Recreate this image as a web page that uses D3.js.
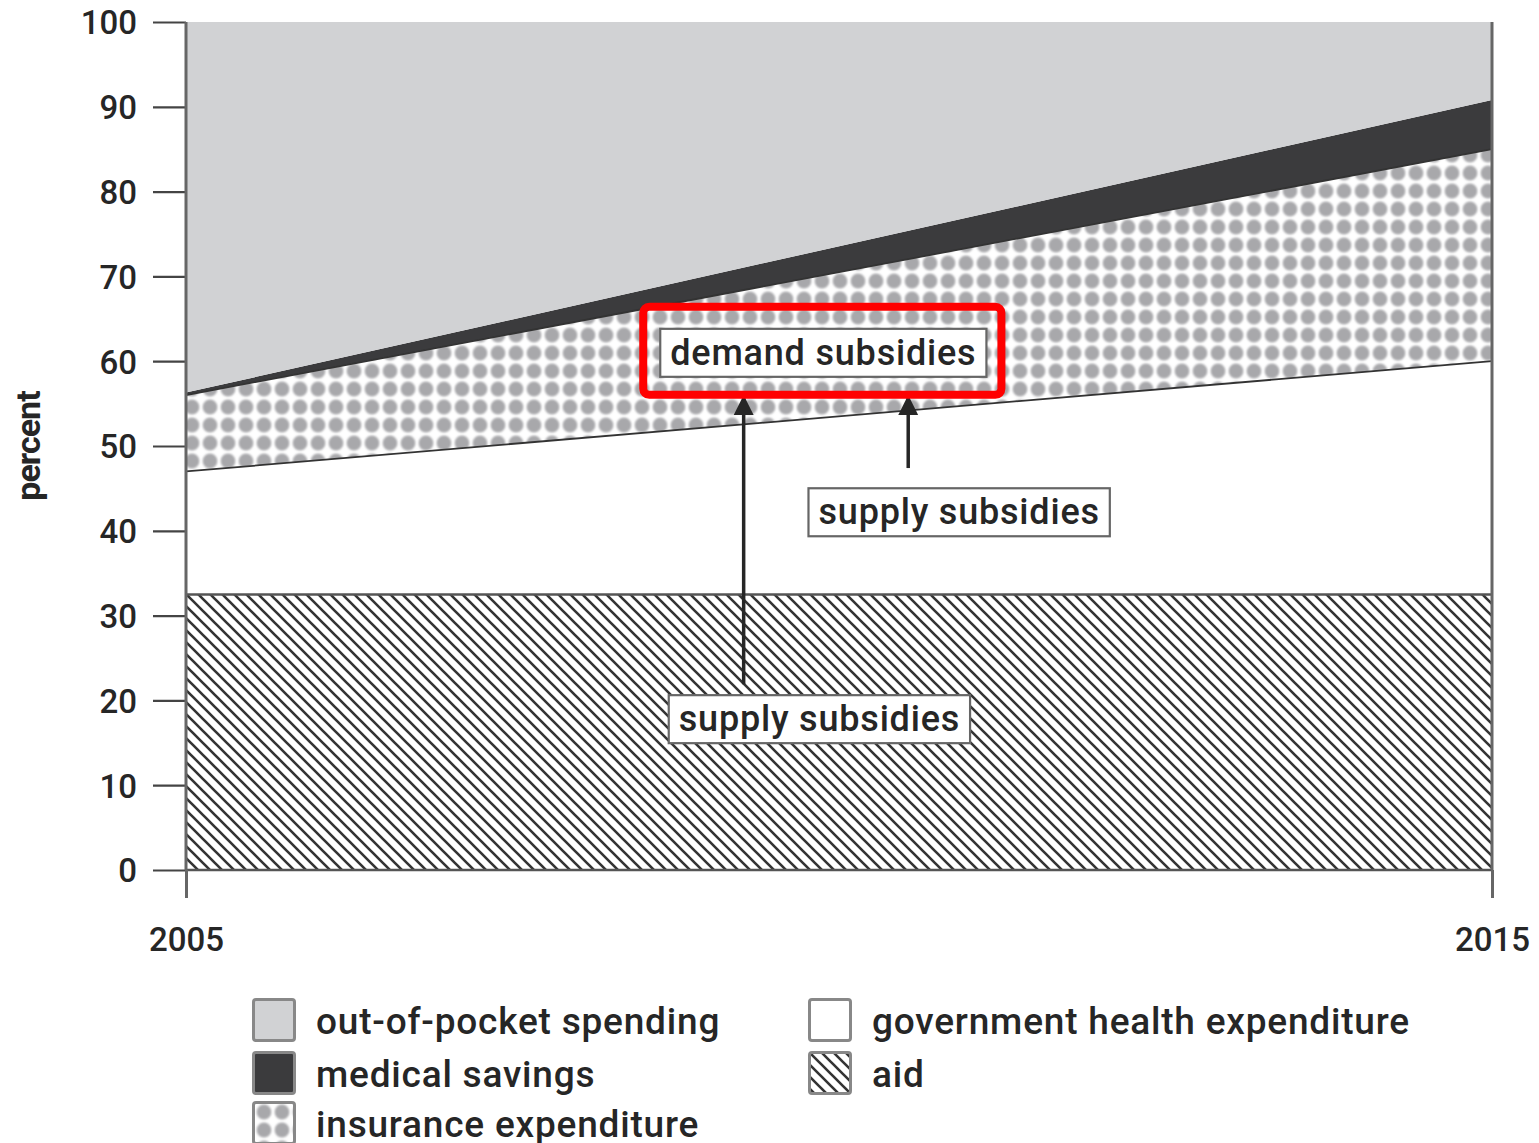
<!DOCTYPE html>
<html lang="en">
<head>
    <meta charset="UTF-8">
    <title>Health financing 2005-2015</title>
    <script src="https://d3js.org/d3.v7.min.js"></script>
    <style>
        body { margin: 0; background: #fff; }
        text { font-family: Roboto, "Liberation Sans", sans-serif; fill: #262626; }
        .tick-label { font-size: 33px; font-weight: 500; }
        .legend-label { font-size: 37px; font-weight: 500; letter-spacing: 0.8px; }
        .note-label { font-size: 36px; font-weight: 500; letter-spacing: 0.8px; }
    </style>
</head>
<body>
    <div id="chart"></div>
    <script>
        // values (percent of total health spending)
        const years = [2005, 2015];
        const aid = [32.5, 32.5];
        const government = [14.5, 27.5];
        const insurance = [9, 25];
        const medicalSavings = [0.3, 5.8];
        const outOfPocket = [43.7, 9.2];
        const yTicks = [0, 10, 20, 30, 40, 50, 60, 70, 80, 90, 100];
        const xTicks = [2005, 2015];

        const keys = ["aid", "government", "insurance", "medical", "outOfPocket"];
        const legendItems = [
            { key: "outOfPocket", label: "out-of-pocket spending", col: 0, row: 0 },
            { key: "medical", label: "medical savings", col: 0, row: 1 },
            { key: "insurance", label: "insurance expenditure", col: 0, row: 2 },
            { key: "government", label: "government health expenditure", col: 1, row: 0 },
            { key: "aid", label: "aid", col: 1, row: 1 }
        ];
        // annotation boxes (centre in data units) and arrows
        const notes = [
            { label: "demand subsidies", year: 2009.88, value: 61.1, highlight: true },
            { label: "supply subsidies", year: 2010.92, value: 42.3 },
            { label: "supply subsidies", year: 2009.85, value: 17.9 }
        ];
        const arrows = [
            { year: 2009.27, from: 21.9, to: 56.0 },
            { year: 2010.53, from: 47.4, to: 56.0 }
        ];

        const rows = years.map((yr, i) => ({
            year: yr,
            aid: aid[i],
            government: government[i],
            insurance: insurance[i],
            medical: medicalSavings[i],
            outOfPocket: outOfPocket[i]
        }));

        const W = 1539, H = 1143;
        const margin = { top: 22, right: 47, bottom: 273, left: 186 };

        const svg = d3.select("#chart").append("svg")
            .attr("width", W)
            .attr("height", H);

        const defs = svg.append("defs");

        // soft grey dots on a white grid
        defs.append("filter")
            .attr("id", "soft")
            .attr("x", "-30%").attr("y", "-30%")
            .attr("width", "160%").attr("height", "160%")
            .append("feGaussianBlur")
            .attr("stdDeviation", 1.1);
        const checker = defs.append("pattern")
            .attr("id", "checker")
            .attr("patternUnits", "userSpaceOnUse")
            .attr("x", 3).attr("y", 2)
            .attr("width", 18).attr("height", 18);
        checker.append("rect").attr("width", 18).attr("height", 18).attr("fill", "#fff");
        checker.append("circle")
            .attr("cx", 9).attr("cy", 9).attr("r", 7.4)
            .attr("fill", "#a8a8ab")
            .attr("filter", "url(#soft)");

        const hatch = defs.append("pattern")
            .attr("id", "hatch")
            .attr("patternUnits", "userSpaceOnUse")
            .attr("width", 12).attr("height", 12);
        hatch.append("rect").attr("width", 12).attr("height", 12).attr("fill", "#fff");
        hatch.append("path")
            .attr("d", "M-3,-3L15,15M-3,9L3,15M9,-3L15,3")
            .attr("stroke", "#333")
            .attr("stroke-width", 2.6);

        const fills = {
            outOfPocket: "#d1d2d4",
            medical: "#3b3b3d",
            insurance: "url(#checker)",
            government: "#fff",
            aid: "url(#hatch)"
        };

        const x = d3.scaleLinear()
            .domain([2005, 2015])
            .range([margin.left, W - margin.right]);

        const y = d3.scaleLinear()
            .domain([0, 100])
            .range([H - margin.bottom, margin.top]);

        const stacked = d3.stack().keys(keys)(rows);

        const area = d3.area()
            .x(d => x(d.data.year))
            .y0(d => y(d[0]))
            .y1(d => y(d[1]));

        svg.append("g").selectAll("path")
            .data(stacked)
            .join("path")
            .attr("d", area)
            .attr("fill", d => fills[d.key]);

        // boundary lines on top of aid, government and insurance
        const edge = d3.line()
            .x(d => x(d.data.year))
            .y(d => y(d[1]));
        svg.append("g").selectAll("path")
            .data(stacked.filter(s => ["aid", "government", "insurance"].includes(s.key)))
            .join("path")
            .attr("d", edge)
            .attr("fill", "none")
            .attr("stroke", d => d.key === "aid" ? "#555" : "#333")
            .attr("stroke-width", d => d.key === "aid" ? 2.5 : 1.8);

        // axes
        const yAxis = d3.axisLeft(y)
            .tickValues(yTicks)
            .tickSize(33)
            .tickPadding(16);
        const gy = svg.append("g")
            .attr("transform", `translate(${margin.left},0)`)
            .call(yAxis);
        gy.select(".domain").remove();
        gy.selectAll(".tick line").attr("stroke", "#444").attr("stroke-width", 2.2);
        gy.selectAll(".tick text").attr("class", "tick-label").attr("fill", "#262626").attr("dy", "0.36em");

        // baseline at 0
        svg.append("line")
            .attr("x1", x(2005)).attr("x2", x(2015))
            .attr("y1", y(0)).attr("y2", y(0))
            .attr("stroke", "#555").attr("stroke-width", 2.5);

        const xAxis = d3.axisBottom(x)
            .tickValues(xTicks)
            .tickFormat(d3.format("d"))
            .tickSize(28)
            .tickPadding(30);
        const gx = svg.append("g")
            .attr("transform", `translate(0,${y(0)})`)
            .call(xAxis);
        gx.select(".domain").remove();
        gx.selectAll(".tick line").attr("stroke", "#666").attr("stroke-width", 3);
        gx.selectAll(".tick text").attr("class", "tick-label").attr("fill", "#262626");

        // vertical frame lines at both years
        svg.append("g").selectAll("line")
            .data(xTicks)
            .join("line")
            .attr("x1", d => x(d)).attr("x2", d => x(d))
            .attr("y1", y(100)).attr("y2", y(0))
            .attr("stroke", "#666").attr("stroke-width", 3);

        svg.append("text")
            .attr("transform", `translate(40,${y(50)}) rotate(-90)`)
            .attr("text-anchor", "middle")
            .style("font-size", "34px")
            .style("font-weight", "bold")
            .style("letter-spacing", "-1px")
            .text("percent");

        // arrows
        defs.append("marker")
            .attr("id", "arrowhead")
            .attr("viewBox", "0 0 10 10")
            .attr("refX", 10).attr("refY", 5)
            .attr("markerUnits", "userSpaceOnUse")
            .attr("markerWidth", 20).attr("markerHeight", 24)
            .attr("orient", "auto")
            .append("path")
            .attr("d", "M0,0L10,5L0,10Z")
            .attr("fill", "#262626");

        svg.append("g").selectAll("line")
            .data(arrows)
            .join("line")
            .attr("x1", d => x(d.year)).attr("x2", d => x(d.year))
            .attr("y1", d => y(d.from)).attr("y2", d => y(d.to))
            .attr("stroke", "#262626")
            .attr("stroke-width", 3.5)
            .attr("marker-end", "url(#arrowhead)");

        // annotation boxes
        notes.forEach(n => {
            const g = svg.append("g")
                .attr("transform", `translate(${x(n.year)},${y(n.value)})`);
            const rect = g.append("rect");
            const t = g.append("text")
                .attr("class", "note-label")
                .attr("text-anchor", "middle")
                .attr("dy", "0.36em")
                .text(n.label);
            const bb = t.node().getBBox();
            const padX = 10, padY = 3;
            rect.attr("x", bb.x - padX).attr("y", bb.y - padY)
                .attr("width", bb.width + 2 * padX).attr("height", bb.height + 2 * padY)
                .attr("fill", "#fff")
                .attr("stroke", "#666")
                .attr("stroke-width", 2.2);
            if (n.highlight) {
                g.append("rect")
                    .attr("x", bb.x - padX - 17).attr("y", bb.y - padY - 22)
                    .attr("width", bb.width + 2 * padX + 32).attr("height", bb.height + 2 * padY + 40)
                    .attr("rx", 6)
                    .attr("fill", "none")
                    .attr("stroke", "#ff0000")
                    .attr("stroke-width", 8);
            }
        });

        // legend
        const legend = svg.append("g");
        const colX = [252, 808], rowY = [998, 1051, 1101], sw = 44;
        const li = legend.selectAll("g")
            .data(legendItems)
            .join("g")
            .attr("transform", d => `translate(${colX[d.col]},${rowY[d.row]})`);
        li.append("rect")
            .attr("x", 1.5).attr("y", 1.5)
            .attr("width", sw - 3).attr("height", sw - 3)
            .attr("rx", 2.5)
            .attr("fill", d => fills[d.key])
            .attr("stroke", "#888")
            .attr("stroke-width", 3);
        li.append("text")
            .attr("class", "legend-label")
            .attr("x", 64)
            .attr("y", 36)
            .text(d => d.label);
    </script>
</body>
</html>
